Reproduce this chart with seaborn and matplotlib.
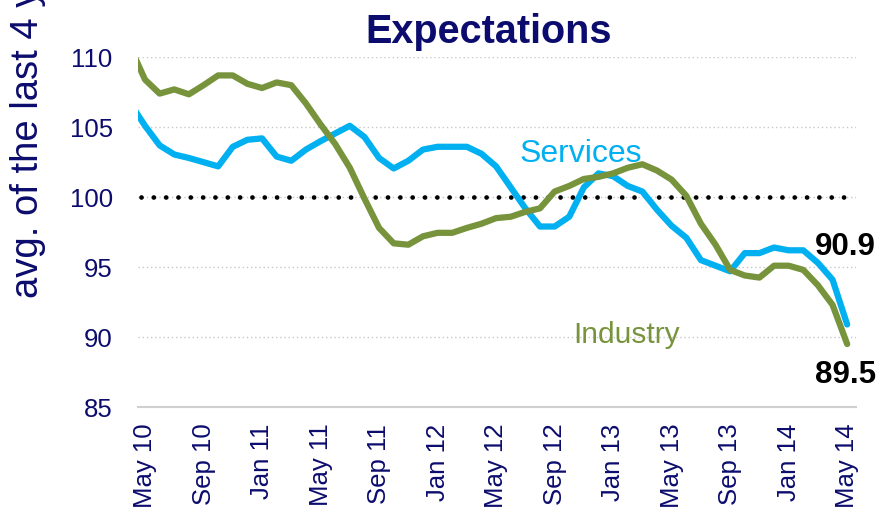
import numpy as np
import pandas as pd
import matplotlib
matplotlib.use("Agg")
import matplotlib.pyplot as plt
import seaborn as sns

# monthly index, Apr 10 .. May 14 (Apr 10 is cut off by the axis edge)
services = [106.7, 105.1, 103.7, 103.05, 102.8, 102.5, 102.2, 103.6, 104.1, 104.2,
            102.9, 102.6, 103.4, 104.0, 104.55, 105.1, 104.3, 102.8, 102.05, 102.6,
            103.4, 103.6, 103.6, 103.6, 103.1, 102.2, 100.7, 99.2, 97.9, 97.9,
            98.6, 100.7, 101.7, 101.5, 100.8, 100.4, 99.1, 97.95, 97.1, 95.5,
            95.1, 94.7, 96.0, 96.0, 96.4, 96.2, 96.2, 95.3, 94.1, 90.9]
industry = [110.7, 108.4, 107.4, 107.7, 107.35, 108.0, 108.7, 108.7, 108.1, 107.8,
            108.2, 108.0, 106.7, 105.2, 103.8, 102.1, 99.9, 97.8, 96.7, 96.6,
            97.2, 97.45, 97.45, 97.8, 98.1, 98.5, 98.6, 98.95, 99.2, 100.4,
            100.8, 101.3, 101.45, 101.7, 102.1, 102.35, 101.9, 101.25, 100.1, 98.1,
            96.6, 94.8, 94.4, 94.25, 95.1, 95.1, 94.8, 93.7, 92.3, 89.5]
tick_labels = ["May 10", "Sep 10", "Jan 11", "May 11", "Sep 11", "Jan 12", "May 12",
               "Sep 12", "Jan 13", "May 13", "Sep 13", "Jan 14", "May 14"]
y_ticks = [85, 90, 95, 100, 105, 110]

navy = "#0c0c6e"
blue = "#00b0f0"
green = "#77933c"

months = np.arange(len(services)) - 1  # May 10 -> 0
df = pd.concat([
    pd.DataFrame({"month": months, "value": services, "series": "Services"}),
    pd.DataFrame({"month": months, "value": industry, "series": "Industry"}),
])

sns.set_style("white")
plt.rcParams["font.family"] = ["Liberation Sans", "DejaVu Sans"]

fig = plt.figure(figsize=(8.77, 5.11), dpi=100)
ax = fig.add_axes([0.157, 0.2035, 0.819, 0.6845])

for y in y_ticks[1:]:
    ax.axhline(y, color="#c8c8c8", linewidth=1, linestyle=(0, (1, 2)), zorder=0)
ax.axhline(100, color="black", linewidth=3.4, linestyle=(0, (0.01, 2.6)),
           dash_capstyle="round", zorder=1, xmin=0.005, xmax=0.985)

sns.lineplot(data=df, x="month", y="value", hue="series",
             palette={"Services": blue, "Industry": green},
             hue_order=["Services", "Industry"], linewidth=4.5,
             legend=False, ax=ax, zorder=3)

ax.set_xlim(-0.5, 48.6)
ax.set_ylim(85, 110)
ax.set_xticks(np.arange(0, 49, 4))
ax.set_xticklabels(tick_labels, rotation=90)
ax.set_yticks(y_ticks)
ax.tick_params(axis="x", length=0, pad=12, labelsize=18.5, labelcolor=navy)
ax.tick_params(axis="y", length=0, pad=18, labelsize=18.5, labelcolor=navy)
ax.set_xlabel("")
ax.set_ylabel("")
for s in ["left", "right", "top"]:
    ax.spines[s].set_visible(False)
ax.spines["bottom"].set_color("#d0d0d0")
ax.spines["bottom"].set_linewidth(1.5)

ax.text(25.6, 102.5, "Services", color=blue, fontsize=23)
ax.text(29.3, 89.57, "Industry", color=green, fontsize=21.5)
ax.text(45.8, 95.9, "90.9", color="black", fontsize=22.5, fontweight="bold")
ax.text(45.8, 86.7, "89.5", color="black", fontsize=22.5, fontweight="bold")

fig.text(489 / 877, 1 - 43 / 511, "Expectations", color=navy, fontsize=28.5,
         fontweight="bold", ha="center", va="baseline")
fig.text(28 / 877, 1 - 298 / 511, "avg. of the last 4 years = 100", color=navy,
         fontsize=27.5, rotation=90, ha="center", va="bottom")

fig.savefig("out.png", dpi=100)
